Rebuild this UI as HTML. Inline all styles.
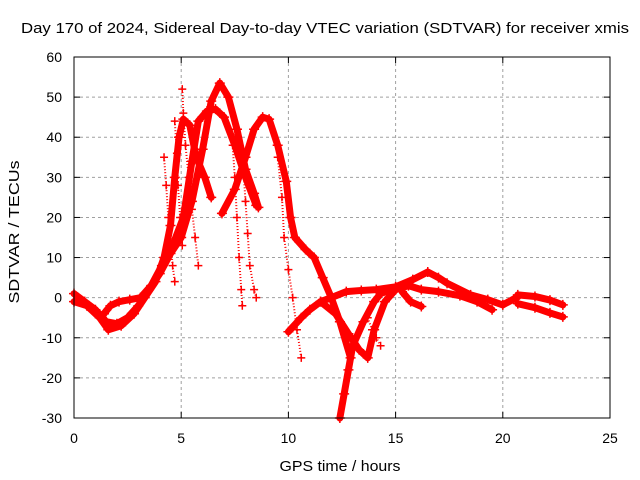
<!DOCTYPE html>
<html><head><meta charset="utf-8"><style>
body{margin:0;background:#fff;}
svg{display:block;font-family:"Liberation Sans",sans-serif;}
</style></head><body>
<svg id="chart" width="640" height="480">
<rect width="640" height="480" fill="#fff"/>
<text x="325" y="33" text-anchor="middle" font-size="15" textLength="608" lengthAdjust="spacingAndGlyphs">Day 170 of 2024, Sidereal Day-to-day VTEC variation (SDTVAR) for receiver xmis</text>
<text x="340" y="471" text-anchor="middle" font-size="15" textLength="121" lengthAdjust="spacingAndGlyphs">GPS time / hours</text>
<text transform="translate(19,232) rotate(-90)" text-anchor="middle" font-size="15" textLength="143" lengthAdjust="spacingAndGlyphs">SDTVAR / TECUs</text>
<g id="grid"></g>
<g id="ticks"></g>
<g id="marks"></g>
<rect x="74" y="57" width="536" height="361" fill="none" stroke="#000" stroke-width="1"/>
</svg>
<script>
const xTicks=[0,5,10,15,20,25];
const yTicks=[-30,-20,-10,0,10,20,30,40,50,60];
// thick tracks (hour, TECU)
const trackA=[[0,1],[0.5,-1],[1,-3],[1.5,-6],[2,-6.5],[2.5,-5],[3,-2],[3.5,2],[4,6],[4.5,11],[5,15],[5.5,24],[6,37],[6.4,49],[6.8,53.5],[7.2,50],[7.6,42],[8,32],[8.4,26],[8.6,22.5]];
const trackB=[[0,-1],[0.6,-2],[1.2,-5],[1.6,-8],[2.2,-7],[2.8,-4],[3.3,0],[3.8,4],[4.2,10],[4.5,18],[4.7,30],[4.9,40],[5.1,44.5],[5.4,43],[5.7,35],[6.1,30],[6.4,25]];
const trackC=[[1.4,-4],[1.7,-2],[2.1,-1],[2.6,-0.5],[3.1,0],[3.6,3],[4.1,8],[4.6,13],[5.1,20],[5.5,34],[5.8,44],[6.2,46.5],[6.6,47],[7,45],[7.5,38],[8,30],[8.5,23]];
const trackD=[[6.9,21],[7.5,27],[8,35],[8.4,42],[8.8,45],[9.1,44.5],[9.5,38],[9.9,29],[10.1,20],[10.3,15],[10.8,12],[11.2,10],[11.6,5],[12,0],[12.4,-6],[12.9,-15]];
const trackE=[[12.4,-30],[12.6,-24],[12.8,-18],[13.0,-12],[13.5,-6],[14.0,-1],[14.3,1],[14.8,2]];
const trackF=[[10.0,-8.5],[10.6,-5],[11.0,-3],[11.5,-1],[12,0],[12.7,1.5],[13.4,1.8],[14.1,2],[15.0,2.7],[15.8,4.5],[16.5,6.4],[17.0,5],[17.4,3.6],[18.5,0.7],[19.3,-0.5],[20,-1.8],[20.7,0.2]];
const trackG=[[11.5,-1],[12.2,-4],[12.8,-9],[13.3,-13],[13.7,-15],[14.0,-8],[14.5,-1],[15.0,2],[15.6,3],[16.2,2],[17,1.5],[18,0.5],[18.8,-1],[19.5,-3]];
const trackH=[[20.7,0.7],[21.5,0.3],[22.2,-0.6],[22.8,-1.8]];
const trackI=[[20.7,-1.5],[21.5,-2.5],[22.2,-3.8],[22.8,-4.8]];
const trackJ=[[15.3,1.5],[15.7,-1],[16.2,-2.2]];
// sparse '+' spike tracks
const spikeA=[[5.05,52],[5.1,46],[5.2,38],[5.35,30],[5.5,22],[5.65,15],[5.8,8]];
const spikeB=[[4.2,35],[4.3,28],[4.4,20],[4.5,14],[4.6,8],[4.7,4]];
const spikeC=[[4.7,44],[4.8,36],[4.85,28],[4.95,20],[5.05,13]];
const spikeD=[[7.4,38],[7.5,30],[7.6,20],[7.7,10],[7.8,2],[7.85,-2]];
const spikeE=[[7.9,32],[8.0,24],[8.1,16],[8.2,8],[8.4,2],[8.5,0]];
const spikeF=[[9.5,35],[9.7,25],[9.8,15],[10.0,7],[10.2,0],[10.4,-8],[10.6,-15]];
const spikeG=[[13.7,-5],[13.9,-8],[14.1,-10],[14.3,-12]];
const thick=[trackA,trackB,trackC,trackD,trackE,trackF,trackG,trackH,trackI,trackJ];
const spikes=[spikeA,spikeB,spikeC,spikeD,spikeE,spikeF,spikeG];

const X0=74,X1=610,Y0=418,Y1=57;
const xs=h=>X0+h/25*(X1-X0);
const ys=v=>Y0-(v+30)/90*(Y0-Y1);
const NS='http://www.w3.org/2000/svg';
function mk(tag,attrs,parent){const e=document.createElementNS(NS,tag);for(const k in attrs)e.setAttribute(k,attrs[k]);parent.appendChild(e);return e;}
const grid=document.getElementById('grid'),ticks=document.getElementById('ticks'),marks=document.getElementById('marks');
xTicks.forEach(t=>{const x=xs(t);
 if(t>0&&t<25){const l=mk('line',{x1:x,x2:x,y1:Y1,y2:Y0,stroke:'#a0a0a0','stroke-dasharray':'3,3'},grid);
 
 }
 mk('line',{x1:x,x2:x,y1:Y0,y2:Y0-6,stroke:'#000'},ticks);
 mk('line',{x1:x,x2:x,y1:Y1,y2:Y1+6,stroke:'#000'},ticks);
 const tx=mk('text',{x:x,y:443,'text-anchor':'middle','font-size':14},ticks);tx.textContent=t;
 
 
});
yTicks.forEach(t=>{const y=ys(t);
 if(t>-30&&t<60){const l=mk('line',{x1:X0,x2:X1,y1:y,y2:y,stroke:'#a0a0a0','stroke-dasharray':'3,3'},grid);
 
 }
 mk('line',{x1:X0,x2:X0+6,y1:y,y2:y,stroke:'#000'},ticks);
 mk('line',{x1:X1,x2:X1-6,y1:y,y2:y,stroke:'#000'},ticks);
 const tx=mk('text',{x:62,y:y+5,'text-anchor':'end','font-size':14},ticks);tx.textContent=t;
 
 
});
function plus(h,v,s){const x=xs(h),y=ys(v);
 const p=mk('path',{d:`M${x-s},${y}H${x+s}M${x},${y-s}V${y+s}`,stroke:'#f00','stroke-width':1.5,fill:'none'},marks);
 
 }
thick.forEach(tr=>{
 const pl=mk('polyline',{points:tr.map(p=>xs(p[0])+','+ys(p[1])).join(' '),fill:'none',stroke:'#f00','stroke-width':7,'stroke-linejoin':'round','stroke-linecap':'round'},marks);
 
 
 tr.forEach(p=>plus(p[0],p[1],5));
});
spikes.forEach(tr=>{
 const pl=mk('polyline',{points:tr.map(p=>xs(p[0])+','+ys(p[1])).join(' '),fill:'none',stroke:'#f00','stroke-width':2,'stroke-dasharray':'1,2'},marks);
 
 
 tr.forEach(p=>plus(p[0],p[1],4));
});
</script>
</body></html>
